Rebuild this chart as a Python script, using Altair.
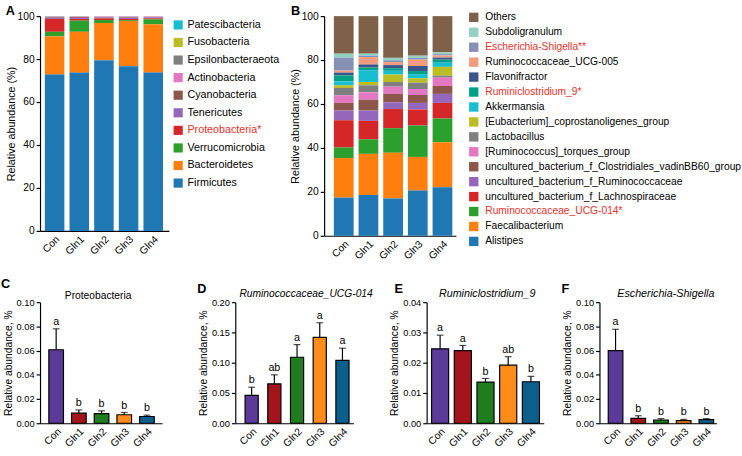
import json
import altair as alt
import pandas as pd

FONT = "Liberation Sans"
RED = "#e8312a"

groups = ["Con", "Gln1", "Gln2", "Gln3", "Gln4"]

# ---------------- Panel A: phyla (legend order, top first) ----------------
phyla = ["Patescibacteria", "Fusobacteria", "Epsilonbacteraeota", "Actinobacteria",
         "Cyanobacteria", "Tenericutes", "Proteobacteria*", "Verrucomicrobia",
         "Bacteroidetes", "Firmicutes"]
phyla_colors = ["#17becf", "#bcbd22", "#7f7f7f", "#e377c2", "#8c564b", "#9467bd",
                "#d62728", "#2ca02c", "#ff7f0e", "#1f77b4"]
phyla_red = ["Proteobacteria*"]
patescibacteria = [0.10, 0.05, 0.05, 0.05, 0.05]
fusobacteria = [0.05, 0.05, 0.05, 0.05, 0.05]
epsilonbacteraeota = [0.15, 0.10, 0.10, 0.10, 0.10]
actinobacteria = [0.20, 0.20, 0.20, 0.20, 0.20]
cyanobacteria = [0.30, 0.40, 0.20, 0.30, 0.20]
tenericutes = [0.50, 0.50, 0.40, 0.60, 0.40]
proteobacteria = [6.00, 0.80, 0.80, 0.60, 0.50]
verrucomicrobia = [2.10, 5.20, 1.40, 0.40, 2.30]
bacteroidetes = [17.8, 19.0, 17.3, 21.0, 22.5]
firmicutes = [72.8, 73.7, 79.5, 76.7, 73.7]
phyla_values = [patescibacteria, fusobacteria, epsilonbacteraeota, actinobacteria,
                cyanobacteria, tenericutes, proteobacteria, verrucomicrobia,
                bacteroidetes, firmicutes]

# ---------------- Panel B: genera (legend order, top first) ----------------
genera = ["Others", "Subdoligranulum", "Escherichia-Shigella**", "Ruminococcaceae_UCG-005",
          "Flavonifractor", "Ruminiclostridium_9*", "Akkermansia",
          "[Eubacterium]_coprostanoligenes_group", "Lactobacillus",
          "[Ruminococcus]_torques_group",
          "uncultured_bacterium_f_Clostridiales_vadinBB60_group",
          "uncultured_bacterium_f_Ruminococcaceae",
          "uncultured_bacterium_f_Lachnospiraceae", "Ruminococcaceae_UCG-014*",
          "Faecalibacterium", "Alistipes"]
genera_colors = ["#7e6148", "#91d1c2", "#8491b4", "#f39b7f", "#3c5488", "#00a087",
                 "#17becf", "#bcbd22", "#7f7f7f", "#e377c2", "#8c564b", "#9467bd",
                 "#d62728", "#2ca02c", "#ff7f0e", "#1f77b4"]
genera_red = ["Escherichia-Shigella**", "Ruminiclostridium_9*", "Ruminococcaceae_UCG-014*"]
others = [17.1, 17.1, 19.0, 18.0, 16.5]
subdoligranulum = [1.8, 0.9, 1.1, 1.0, 0.8]
escherichia = [5.9, 0.7, 0.8, 0.8, 0.6]
ucg005 = [0.9, 3.3, 1.4, 2.9, 1.0]
flavonifractor = [1.3, 1.4, 1.4, 2.3, 0.9]
ruminiclostridium9 = [2.7, 1.2, 1.2, 1.4, 1.4]
akkermansia = [1.8, 5.4, 1.7, 1.9, 1.9]
eubacterium = [1.2, 1.5, 3.4, 2.0, 4.0]
lactobacillus = [3.3, 3.2, 2.1, 2.9, 0.9]
torques = [3.5, 3.4, 3.3, 2.7, 3.8]
clostridiales = [3.5, 4.9, 3.8, 3.6, 3.6]
ruminococcaceae = [4.4, 4.6, 3.1, 3.0, 4.1]
lachnospiraceae = [12.4, 8.5, 8.7, 7.3, 7.1]
ucg014 = [4.8, 6.6, 11.2, 14.3, 10.8]
faecalibacterium = [18.0, 18.7, 20.8, 15.3, 20.5]
alistipes = [17.4, 18.6, 17.0, 20.6, 22.1]
genera_values = [others, subdoligranulum, escherichia, ucg005, flavonifractor,
                 ruminiclostridium9, akkermansia, eubacterium, lactobacillus, torques,
                 clostridiales, ruminococcaceae, lachnospiraceae, ucg014,
                 faecalibacterium, alistipes]

# ---------------- Panels C-F: means and SD ----------------
group_colors = ["#5b3a9a", "#a3141c", "#1f7d1f", "#ff8b1a", "#0b5f8b"]

proteo_mean = [0.0607, 0.0083, 0.0080, 0.0070, 0.0056]
proteo_sd = [0.0173, 0.0027, 0.0022, 0.0019, 0.0011]
proteo_sig = ["a", "b", "b", "b", "b"]

ucg014_mean = [0.046, 0.065, 0.109, 0.142, 0.104]
ucg014_sd = [0.0135, 0.015, 0.021, 0.024, 0.020]
ucg014_sig = ["b", "ab", "a", "a", "a"]

rum9_mean = [0.0246, 0.0240, 0.0136, 0.0192, 0.0137]
rum9_sd = [0.0045, 0.0017, 0.0012, 0.0028, 0.0018]
rum9_sig = ["a", "a", "b", "ab", "b"]

esch_mean = [0.0600, 0.0040, 0.0027, 0.0022, 0.0030]
esch_sd = [0.0176, 0.0022, 0.0011, 0.0010, 0.0008]
esch_sig = ["a", "b", "b", "b", "b"]


def text_layer(text, dx, dy, size, weight="normal", style="normal", align="left"):
    return alt.Chart(pd.DataFrame({"t": [text]})).mark_text(
        align=align, baseline="alphabetic", fontSize=size, fontWeight=weight,
        fontStyle=style, font=FONT, color="black"
    ).encode(text="t:N", x=alt.value(dx), y=alt.value(dy))


def spacer(w):
    return alt.Chart(pd.DataFrame({"s": [0]})).mark_point(opacity=0).encode(
        x=alt.value(0), y=alt.value(0)
    ).properties(width=w, height=10)


def stacked_panel(taxa, colors, values_list, red_names, width, height, pi, po, al,
                  legend_x, legend_y, legend_font, row_pad, label_off, sym_size,
                  letter, letter_dx):
    rows = []
    n = len(taxa)
    for i, (taxon, vals) in enumerate(zip(taxa, values_list)):
        for g, v in zip(groups, vals):
            rows.append({"group": g, "taxon": taxon, "value": v, "rank": n - 1 - i})
    df = pd.DataFrame(rows)
    expr = ("indexof(" + json.dumps(red_names) + ", datum.label) >= 0 ? '"
            + RED + "' : 'black'")
    bars = alt.Chart(df).mark_bar().encode(
        x=alt.X("group:N", sort=groups,
                scale=alt.Scale(paddingInner=pi, paddingOuter=po, align=al),
                axis=alt.Axis(title=None, labelAngle=-45, ticks=False,
                              labelFontSize=10.5, labelPadding=3)),
        y=alt.Y("value:Q", stack="zero", scale=alt.Scale(domain=[0, 100], nice=False),
                axis=alt.Axis(title="Relative abundance (%)",
                              values=[0, 20, 40, 60, 80, 100], tickSize=4,
                              labelFontSize=10.5, titleFontSize=11, titlePadding=1,
                              labelPadding=2)),
        color=alt.Color("taxon:N", scale=alt.Scale(domain=taxa, range=colors),
                        legend=alt.Legend(title=None, orient="none", direction="vertical",
                                          legendX=legend_x, legendY=legend_y,
                                          symbolType="square", symbolSize=sym_size,
                                          symbolStrokeWidth=0, labelFontSize=legend_font,
                                          labelFont=FONT, labelOffset=label_off,
                                          rowPadding=row_pad, labelLimit=400,
                                          padding=0,
                                          labelColor={"expr": expr})),
        order=alt.Order("rank:Q", sort="ascending"),
    )
    return alt.layer(bars, text_layer(letter, letter_dx, -1, 13, weight="bold")).properties(
        width=width, height=height)


def bar_panel(title, italic, title_size, title_dx, title_dy, means, sds, sig, ymax,
              ystep, width, pi, po, al, letter, letter_dx, letter_dy):
    df = pd.DataFrame({"group": groups, "mean": means, "sd": sds, "sig": sig})
    df["top"] = df["mean"] + df["sd"]
    ticks = [round(ystep * k, 4) for k in range(int(round(ymax / ystep)) + 1)]
    yaxis = alt.Axis(title="Relative abundance, %", values=ticks, format=".2f",
                     tickSize=4, labelFontSize=9.5, titleFontSize=10.5,
                     titlePadding=3, labelPadding=2)
    yscale = alt.Scale(domain=[0, ymax], nice=False)
    base = alt.Chart(df).encode(
        x=alt.X("group:N", sort=groups,
                scale=alt.Scale(paddingInner=pi, paddingOuter=po, align=al),
                axis=alt.Axis(title=None, labelAngle=-45, ticks=False,
                              labelFontSize=10.5, labelPadding=3))
    )
    bars = base.mark_bar(stroke="black", strokeWidth=1.2).encode(
        y=alt.Y("mean:Q", scale=yscale, axis=yaxis),
        color=alt.Color("group:N", scale=alt.Scale(domain=groups, range=group_colors),
                        legend=None),
    )
    rule = base.mark_rule(color="black", strokeWidth=1.2).encode(
        y=alt.Y("mean:Q", scale=yscale, axis=yaxis), y2="top:Q")
    cap = base.mark_tick(color="black", thickness=1.2, size=7).encode(
        y=alt.Y("top:Q", scale=yscale, axis=yaxis))
    txt = base.mark_text(baseline="alphabetic", dy=-4, fontSize=11, font=FONT,
                         color="black").encode(
        y=alt.Y("top:Q", scale=yscale, axis=yaxis), text="sig:N")
    ttl = text_layer(title, width / 2 + title_dx, title_dy, title_size,
                     style="italic" if italic else "normal", align="center")
    return alt.layer(bars, rule, cap, txt, ttl,
                     text_layer(letter, letter_dx, letter_dy, 13, weight="bold")
                     ).properties(width=width, height=124)


A = stacked_panel(phyla, phyla_colors, phyla_values, phyla_red, 132, 220,
                  0.208, 0.218, 0.45, 136, 3.5, 11, 6.0, 4, 88, "A", -35)
B = stacked_panel(genera, genera_colors, genera_values, genera_red, 135, 225,
                  0.2, 0.27, 0.73, 148, -4, 10.5, 4.3, 6.5, 92, "B", -34)

C = bar_panel("Proteobacteria", False, 10.5, -3, -3, proteo_mean, proteo_sd, proteo_sig,
              0.10, 0.02, 125, 0.355, 0.366, 0.53, "C", -40, -15)
D = bar_panel("Ruminococcaceae_UCG-014", True, 10.5, 12, -5, ucg014_mean, ucg014_sd,
              ucg014_sig, 0.20, 0.05, 121, 0.42, 0.312, 0.69, "D", -39, -9)
E = bar_panel("Ruminiclostridium_9", True, 11, 2, -5, rum9_mean, rum9_sd, rum9_sig,
              0.04, 0.01, 120, 0.247, 0.204, 0.53, "E", -33, -9)
F = bar_panel("Escherichia-Shigella", True, 11, 8, -5, esch_mean, esch_sd, esch_sig,
              0.10, 0.02, 120, 0.355, 0.258, 0.75, "F", -39, -9)

top = alt.hconcat(A, spacer(159), B, spacing=0, bounds="flush").resolve_scale(
    color="independent").resolve_legend(color="independent")
bottom = alt.hconcat(C, spacer(75), D, spacer(75), E, spacer(57), F,
                     spacing=0, bounds="flush").resolve_scale(color="independent")

chart = alt.vconcat(top, bottom, spacing=16).resolve_scale(
    color="independent").resolve_legend(color="independent").properties(
    padding={"left": 1, "top": 0, "right": 0, "bottom": 0},
    background="white",
).configure_view(stroke=None).configure_axis(
    domainColor="black", domainWidth=1.2, tickColor="black", tickWidth=1.2,
    labelColor="black", titleColor="black", labelFont=FONT, titleFont=FONT,
    titleFontWeight="normal", grid=False
).configure_text(font=FONT)

chart.save("out.html", embed_options={"renderer": "svg", "actions": False})
